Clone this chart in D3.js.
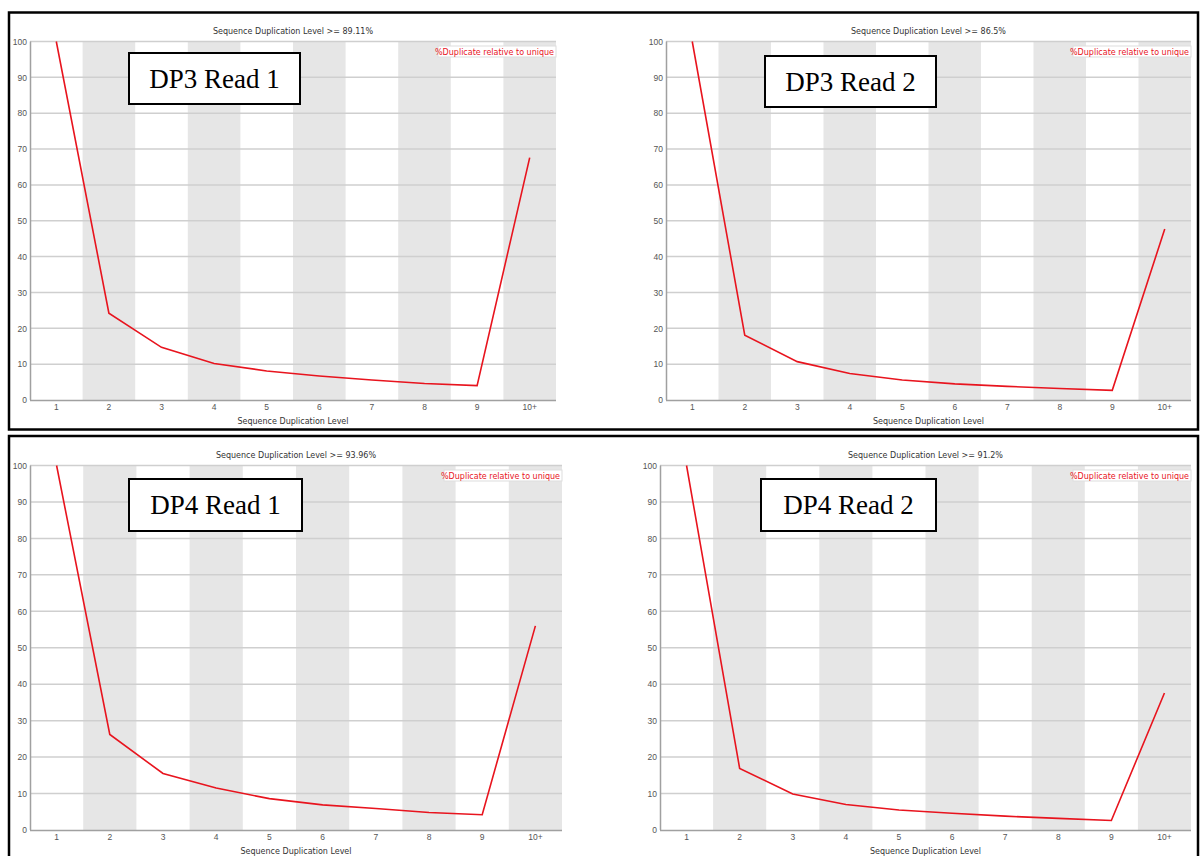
<!DOCTYPE html>
<html>
<head>
  <meta charset="utf-8">
  <script src="https://d3js.org/d3.v7.min.js"></script>
  <style>
    body { margin: 0; background: #fff; }
    svg { display: block; font-family: "DejaVu Sans", sans-serif; }
    .tick text { fill: #555; font-size: 8.5px; }
    .domain { stroke: #a0a0a0; stroke-width: 1.5; }
  </style>
</head>
<body>
<div id="chart"></div>
<script>

// categories on the x axis
const levels = ["1", "2", "3", "4", "5", "6", "7", "8", "9", "10+"];
const yTicks = [0, 10, 20, 30, 40, 50, 60, 70, 80, 90, 100];

// %Duplicate relative to unique
const dp3Read1 = [100, 24.2, 14.7, 10.2, 8.1, 6.7, 5.6, 4.6, 4.0, 67.6];
const dp3Read2 = [100, 18.1, 10.7, 7.4, 5.6, 4.5, 3.8, 3.2, 2.7, 47.7];
const dp4Read1 = [100, 26.2, 15.5, 11.5, 8.6, 6.9, 5.9, 4.8, 4.2, 56.0];
const dp4Read2 = [100, 16.9, 9.9, 7.0, 5.5, 4.6, 3.8, 3.2, 2.6, 37.6];

const names = ["DP3 Read 1", "DP3 Read 2", "DP4 Read 1", "DP4 Read 2"];
const totals = ["89.11%", "86.5%", "93.96%", "91.2%"];
const series = [dp3Read1, dp3Read2, dp4Read1, dp4Read2];

// layout of each panel
const panels = [
  { left: 30, right: 556, top: 41.5, bottom: 400, label: [129, 53, 171, 51] },
  { left: 666, right: 1191, top: 41.5, bottom: 400, label: [765, 56, 171, 51] },
  { left: 30, right: 562, top: 465.5, bottom: 830, label: [129, 479, 173, 52] },
  { left: 660, right: 1191, top: 465.5, bottom: 830, label: [761, 479, 175, 52] }
];

const svg = d3.select("#chart")
  .append("svg")
  .attr("width", 1200)
  .attr("height", 856);

// outer frames round each row
svg.append("rect")
  .attr("x", 9).attr("y", 12.5).attr("width", 1189).attr("height", 417)
  .attr("fill", "none").attr("stroke", "#000").attr("stroke-width", 2.5);
svg.append("rect")
  .attr("x", 9).attr("y", 436).attr("width", 1189).attr("height", 430)
  .attr("fill", "none").attr("stroke", "#000").attr("stroke-width", 2.5);

panels.forEach((p, i) => {
  const data = series[i];
  const g = svg.append("g");

  const x = d3.scaleBand().domain(levels).range([p.left, p.right]);
  const y = d3.scaleLinear().domain([0, 100]).range([p.bottom, p.top]);

  // alternating bands
  g.selectAll(".band")
    .data(levels.filter((d, k) => k % 2 === 1))
    .enter()
    .append("rect")
    .attr("x", d => x(d))
    .attr("y", y(100))
    .attr("width", x.bandwidth())
    .attr("height", y(0) - y(100))
    .attr("fill", "#e6e6e6");

  // grid lines
  g.selectAll(".grid")
    .data(yTicks.slice(1))
    .enter()
    .append("line")
    .attr("x1", p.left).attr("x2", p.right)
    .attr("y1", d => y(d)).attr("y2", d => y(d))
    .attr("stroke", "#cfcfcf")
    .attr("stroke-width", 1.5);

  // axes
  g.append("g")
    .attr("transform", `translate(${p.left},0)`)
    .call(d3.axisLeft(y).tickValues(yTicks).tickSize(0).tickPadding(3))
    .call(a => a.select(".domain").attr("d", `M0.5,${y(100)}V${y(0)}`));

  g.append("g")
    .attr("transform", `translate(0,${p.bottom})`)
    .call(d3.axisBottom(x).tickSize(0).tickPadding(4))
    .call(a => a.select(".domain").attr("d", `M${p.left},0.5H${p.right}`));

  // the duplication line
  const line = d3.line()
    .x((d, k) => x(levels[k]) + x.bandwidth() / 2)
    .y(d => y(d));

  g.append("path")
    .datum(data)
    .attr("d", line)
    .attr("fill", "none")
    .attr("stroke", "#e8141e")
    .attr("stroke-width", 1.6);

  // title and axis label
  const mid = (p.left + p.right) / 2;
  g.append("text")
    .attr("x", mid).attr("y", p.top - 8)
    .attr("text-anchor", "middle")
    .attr("font-size", 8).attr("fill", "#333")
    .text("Sequence Duplication Level >= " + totals[i]);

  g.append("text")
    .attr("x", mid).attr("y", p.bottom + 24)
    .attr("text-anchor", "middle")
    .attr("font-size", 8).attr("fill", "#333")
    .text("Sequence Duplication Level");

  // legend
  const lw = 118;
  g.append("rect")
    .attr("x", p.right - lw).attr("y", p.top + 4.5)
    .attr("width", lw).attr("height", 11)
    .attr("fill", "#fff").attr("stroke", "#ddd");
  g.append("text")
    .attr("x", p.right - 2).attr("y", p.top + 13)
    .attr("text-anchor", "end")
    .attr("font-size", 8).attr("fill", "#e8141e")
    .text("%Duplicate relative to unique");

  // sample label box
  const [bx, by, bw, bh] = p.label;
  g.append("rect")
    .attr("x", bx).attr("y", by).attr("width", bw).attr("height", bh)
    .attr("fill", "#fff").attr("stroke", "#000").attr("stroke-width", 2);
  g.append("text")
    .attr("x", bx + bw / 2).attr("y", by + bh / 2 + 9)
    .attr("text-anchor", "middle")
    .attr("font-family", "'Liberation Serif', 'Times New Roman', serif")
    .attr("font-size", 27).attr("fill", "#000")
    .text(names[i]);
});

</script>
</body>
</html>
